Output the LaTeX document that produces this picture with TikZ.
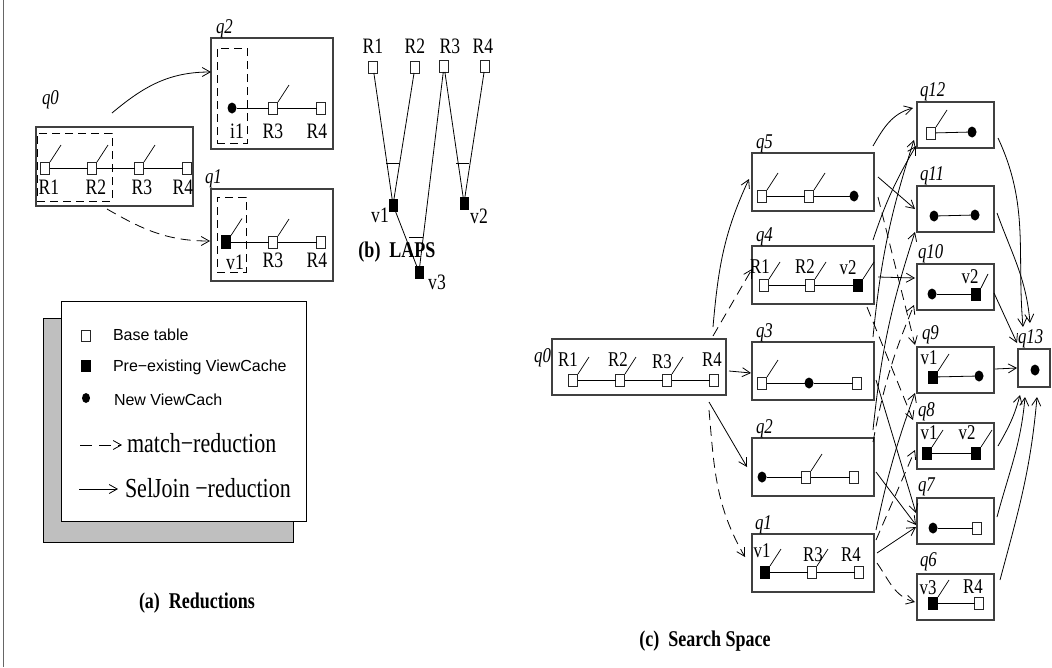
\documentclass[tikz,border=0pt]{standalone}
\usepackage{fontspec}
\setmainfont{Liberation Serif}[FakeStretch=0.8]
\newfontfamily\legfont{Liberation Sans}
\usetikzlibrary{arrows.meta,shapes.geometric}
\newcommand\seltick[1]{\draw[tick] ([xshift=0.5pt]#1.north east) -- ++(11,-17);}
\begin{document}
\begin{tikzpicture}[x=1pt,y=-1pt,
  every node/.style={inner sep=0pt, outer sep=0pt},
  qbox/.style={draw=black!75, line width=1.2pt, rectangle},
  bsq/.style={draw=black!85, fill=white, line width=0.8pt, minimum width=9pt, minimum height=12pt, rectangle},
  psq/.style={draw=black, fill=black, minimum width=9pt, minimum height=12pt, rectangle},
  ndot/.style={fill=black, ellipse, minimum width=9pt, minimum height=11pt},
  lab/.style={font=\fontsize{22}{24}\selectfont},
  clab/.style={font=\fontsize{21}{23}\selectfont},
  qlab/.style={font=\fontsize{21}{23}\selectfont\itshape, anchor=base west},
  link/.style={line width=0.8pt},
  tick/.style={line width=0.7pt},
  arr/.style={line width=0.8pt, -{Straight Barb[length=8pt,width=9pt]}},
  darr/.style={arr, dash pattern=on 10pt off 6pt},
  dbox/.style={draw, line width=0.8pt, dash pattern=on 8pt off 5pt},
]
\useasboundingbox (0,0) rectangle (1052,667);
\fill[white] (0,0) rectangle (1052,667);
\draw[black!60, line width=1pt] (3,0) -- (3,667);

% ---------------- (a) Reductions ----------------
\node[qbox, minimum width=157pt, minimum height=79pt] (a0) at (114.5,166.5) {};
\node[qlab] (a0l) at (42,104) {q0};
\node[dbox, minimum width=75pt, minimum height=68pt] (a0d) at (74.5,167) {};
\node[bsq] (a0r1) at (45,168) {};
\node[bsq] (a0r2) at (92,168) {};
\node[bsq] (a0r3) at (139,168) {};
\node[bsq] (a0r4) at (187,168) {};
\draw[link] (a0r1) -- (a0r2) -- (a0r3) -- (a0r4);
\seltick{a0r1}\seltick{a0r2}\seltick{a0r3}
\node[lab] (a0t1) at (49,187) {R1};
\node[lab] (a0t2) at (96,187) {R2};
\node[lab] (a0t3) at (142,187) {R3};
\node[lab] (a0t4) at (183,187) {R4};

\node[qbox, minimum width=122pt, minimum height=111pt] (a2) at (272,93.5) {};
\node[qlab] (a2l) at (216,33) {q2};
\node[dbox, minimum width=30pt, minimum height=95pt] (a2d) at (232,95.5) {};
\node[ndot] (a2i) at (232,108) {};
\node[bsq] (a2r3) at (273,108) {};
\node[bsq] (a2r4) at (321,108) {};
\draw[link] (a2i) -- (a2r3) -- (a2r4);
\seltick{a2r3}
\node[lab] (a2t1) at (237,131) {i1};
\node[lab] (a2t3) at (273,131) {R3};
\node[lab] (a2t4) at (317,131) {R4};

\node[qbox, minimum width=122pt, minimum height=92pt] (a1) at (272,235) {};
\node[qlab] (a1l) at (205,183) {q1};
\node[dbox, minimum width=29pt, minimum height=75pt] (a1d) at (231.5,234.5) {};
\node[psq, minimum height=13pt] (a1v) at (226,242) {};
\node[bsq] (a1r3) at (273,242) {};
\node[bsq] (a1r4) at (321,242) {};
\draw[link] (a1v) -- (a1r3) -- (a1r4);
\seltick{a1v}\seltick{a1r3}
\node[lab] (a1t1) at (235,262) {v1};
\node[lab] (a1t3) at (273,260) {R3};
\node[lab] (a1t4) at (317,260) {R4};

\draw[arr] ([xshift=-2.5pt,yshift=14pt]a0.north) to[out=40,in=180] ([xshift=0pt,yshift=21.5pt]a2.west);
\draw[darr] ([xshift=-7.5pt,yshift=-3pt]a0.south) to[out=-30,in=180] ([xshift=-1pt,yshift=-6pt]a1.west);

% legend
\node[draw, fill=black!25, line width=0.8pt, minimum width=250pt, minimum height=224pt] (lgs) at (168,430) {};
\node[draw, fill=white, line width=0.8pt, minimum width=245pt, minimum height=220pt] (lg) at (183.5,411) {};
\node[bsq, minimum width=9pt, minimum height=11pt] (lg1) at (86,336) {};
\node[psq, minimum width=9pt, minimum height=11pt] (lg2) at (86,366) {};
\node[ndot, minimum width=8pt, minimum height=10pt] (lg3) at (86,398) {};
\node[anchor=base west, font=\legfont\fontsize{16}{18}\selectfont] (lg1t) at (113,340) {Base table};
\node[anchor=base west, font=\legfont\fontsize{16}{18}\selectfont] (lg2t) at (113,371.5) {Pre−existing ViewCache};
\node[anchor=base west, font=\legfont\fontsize{16}{18}\selectfont] (lg3t) at (114,405) {New ViewCach};
\coordinate (lgm1) at (80,445);
\coordinate (lgm2) at (122,445);
\coordinate (lgs1) at (79,489);
\coordinate (lgs2) at (118,489);
\draw[arr, dash pattern=on 12pt off 7pt] (lgm1) -- (lgm2);
\draw[arr] (lgs1) -- (lgs2);
\node[anchor=base west, font=\fontsize{27.5}{30}\selectfont] (lg4t) at (127,452) {match−reduction};
\node[anchor=base west, font=\fontsize{27.5}{30}\selectfont] (lg5t) at (125,497) {SelJoin −reduction};
\node[font=\bfseries\fontsize{22.5}{25}\selectfont] (capa) at (197,603) {(a)\ \ Reductions};

% ---------------- (b) LAPS ----------------
\node[bsq] (lr1) at (373,67) {};
\node[bsq] (lr2) at (415,67) {};
\node[bsq] (lr3) at (444,66) {};
\node[bsq] (lr4) at (485,66) {};
\node[lab] (lr1t) at (373,46) {R1};
\node[lab] (lr2t) at (415,46) {R2};
\node[lab] (lr3t) at (450,46) {R3};
\node[lab] (lr4t) at (483,46) {R4};
\node[psq, minimum width=8pt] (lv1) at (393,205) {};
\node[psq, minimum width=8pt] (lv2) at (464,203) {};
\node[psq, minimum width=8pt] (lv3) at (419,272) {};
\node[lab] (lv1t) at (380,215) {v1};
\node[lab] (lv2t) at (479,216) {v2};
\node[lab] (lv3t) at (437,282) {v3};
\draw[link] (lr1) -- (lv1);
\draw[link] (lr2) -- (lv1);
\draw[link] (lr3) -- (lv2);
\draw[link] (lr4) -- (lv2);
\draw[link] (lr3) -- (lv3);
\draw[link] (lv1) -- (lv3);
\draw[link] (386,163) -- (399,163);
\draw[link] (456,163) -- (469,163);
\draw[link] (409,237) -- (423,237);
\node[font=\bfseries\fontsize{22.5}{25}\selectfont] (capb) at (397,252) {(b)\ \ LAPS};

% ---------------- (c) Search Space ----------------
\node[qbox, minimum width=174pt, minimum height=56pt] (c0) at (639,367) {};
\node[qlab, anchor=base east] (c0l) at (551,362) {q0};
\node[bsq] (c0a) at (573,380) {};
\node[bsq] (c0b) at (620,380) {};
\node[bsq] (c0c) at (667,380) {};
\node[bsq] (c0d) at (714,380) {};
\draw[link] (c0a) -- (c0b) -- (c0c) -- (c0d);
\seltick{c0a}\seltick{c0b}\seltick{c0c}
\node[clab] (c0t1) at (568,360) {R1};
\node[clab] (c0t2) at (618,360) {R2};
\node[clab] (c0t3) at (662,362) {R3};
\node[clab] (c0t4) at (712,360) {R4};

% column 1
\node[qbox, minimum width=122pt, minimum height=58pt] (c5) at (813,182) {};
\node[qbox, minimum width=122pt, minimum height=58pt] (c4) at (813,275) {};
\node[qbox, minimum width=122pt, minimum height=58pt] (c3) at (813,371) {};
\node[qbox, minimum width=122pt, minimum height=58pt] (c2) at (813,467) {};
\node[qbox, minimum width=122pt, minimum height=58pt] (c1) at (813,563) {};
\node[qlab] (c5l) at (756,148) {q5};
\node[qlab] (c4l) at (756,241) {q4};
\node[qlab] (c3l) at (756,337) {q3};
\node[qlab] (c2l) at (756,433) {q2};
\node[qlab] (c1l) at (755,529) {q1};

\node[bsq] (c5a) at (762,196) {};
\node[bsq] (c5b) at (809,196) {};
\node[ndot] (c5c) at (854,196) {};
\draw[link] (c5a) -- (c5b) -- (c5c);
\seltick{c5a}\seltick{c5b}

\node[bsq] (c4a) at (764,285) {};
\node[bsq] (c4b) at (810,285) {};
\node[psq] (c4c) at (858,285) {};
\draw[link] (c4a) -- (c4b) -- (c4c);
\seltick{c4a}\seltick{c4b}\seltick{c4c}
\node[clab] (c4t1) at (760,267) {R1};
\node[clab] (c4t2) at (805,267) {R2};
\node[clab] (c4t3) at (848,268) {v2};

\node[bsq] (c3a) at (762,383) {};
\node[ndot] (c3b) at (809,383) {};
\node[bsq] (c3c) at (857,383) {};
\draw[link] (c3a) -- (c3b) -- (c3c);
\seltick{c3a}

\node[ndot] (c2a) at (762,477) {};
\node[bsq] (c2b) at (806,477) {};
\node[bsq] (c2c) at (854,477) {};
\draw[link] (c2a) -- (c2b) -- (c2c);
\seltick{c2b}

\node[psq] (c1a) at (765,572) {};
\node[bsq] (c1b) at (812,572) {};
\node[bsq] (c1c) at (859,572) {};
\draw[link] (c1a) -- (c1b) -- (c1c);
\seltick{c1a}\seltick{c1b}
\node[clab] (c1t1) at (762,551) {v1};
\node[clab] (c1t2) at (813,555) {R3};
\node[clab] (c1t3) at (851,555) {R4};

% column 2
\node[qbox, minimum width=77pt, minimum height=46pt] (c12) at (955.5,125) {};
\node[qbox, minimum width=77pt, minimum height=46pt] (c11) at (955.5,209) {};
\node[qbox, minimum width=77pt, minimum height=46pt] (c10) at (955.5,287) {};
\node[qbox, minimum width=77pt, minimum height=46pt] (c9) at (955.5,370) {};
\node[qbox, minimum width=77pt, minimum height=46pt] (c8) at (955.5,446) {};
\node[qbox, minimum width=77pt, minimum height=46pt] (c7) at (955.5,521) {};
\node[qbox, minimum width=77pt, minimum height=46pt] (c6) at (955.5,597) {};
\node[qlab] (c12l) at (920,96) {q12};
\node[qlab] (c11l) at (920,180) {q11};
\node[qlab] (c10l) at (918,258) {q10};
\node[qlab] (c9l) at (922,339) {q9};
\node[qlab] (c8l) at (918,416) {q8};
\node[qlab] (c7l) at (918,491) {q7};
\node[qlab] (c6l) at (920,566) {q6};

\node[bsq] (c12a) at (931,133) {};
\node[ndot] (c12b) at (972,132) {};
\draw[link] (c12a) -- (c12b);
\seltick{c12a}

\node[ndot] (c11a) at (934,216) {};
\node[ndot] (c11b) at (975,215) {};
\draw[link] (c11a) -- (c11b);

\node[ndot] (c10a) at (932,294) {};
\node[psq] (c10b) at (976,294) {};
\draw[link] (c10a) -- (c10b);
\draw[tick] ([xshift=0.5pt]c10b.north east) -- ++(7,-14);
\node[clab] (c10t) at (970,277) {v2};

\node[psq] (c9a) at (933,377) {};
\node[ndot] (c9b) at (979,376) {};
\draw[link] (c9a) -- (c9b);
\seltick{c9a}
\node[clab] (c9t) at (929,358) {v1};

\node[psq] (c8a) at (927,453) {};
\node[psq] (c8b) at (976,453) {};
\draw[link] (c8a) -- (c8b);
\seltick{c8a}\seltick{c8b}
\node[clab] (c8t1) at (929,433) {v1};
\node[clab] (c8t2) at (967,433) {v2};

\node[ndot] (c7a) at (933,528) {};
\node[bsq] (c7b) at (977,528) {};
\draw[link] (c7a) -- (c7b);

\node[psq] (c6a) at (933,603) {};
\node[bsq] (c6b) at (979,603) {};
\draw[link] (c6a) -- (c6b);
\seltick{c6a}
\node[clab] (c6t1) at (928,588) {v3};
\node[clab] (c6t2) at (973,587) {R4};

% q13
\node[qbox, minimum width=32pt, minimum height=38pt] (c13) at (1034,368) {};
\node[qlab] (c13l) at (1018,343) {q13};
\node[ndot] (c13a) at (1035,370) {};

% arrows q0 -> column 1
\draw[arr] ([xshift=-13pt,yshift=12pt]c0.north east) to[out=85,in=-115] ([xshift=-3pt,yshift=3pt]c5.west);
\draw[darr] ([xshift=-13pt,yshift=3pt]c0.north east) -- ([yshift=6pt]c4.west);
\draw[arr] ([xshift=3pt,yshift=-4pt]c0.east) -- ([xshift=-1pt,yshift=-2pt]c3.west);
\draw[arr] ([xshift=-17pt,yshift=-7pt]c0.south east) -- ([xshift=-5pt]c2.west);
\draw[darr] ([xshift=-17pt,yshift=-15pt]c0.south east) to[out=-85,in=120] ([xshift=-7pt,yshift=6pt]c1.west);

% column 1 -> column 2
\draw[arr] ([xshift=-1pt,yshift=7pt]c5.north east) to[out=60,in=195] ([xshift=-4pt,yshift=17pt]c12.west);
\draw[arr] ([xshift=4pt,yshift=5pt]c5.east) -- ([xshift=-2pt]c11.west);
\draw[darr] ([xshift=4pt,yshift=-15pt]c5.east) -- ([xshift=-2pt,yshift=2pt]c9.north west);
\draw[arr] ([xshift=-1pt,yshift=6pt]c4.north east) to[bend left=6] ([xshift=-1pt,yshift=2pt]c12.south west);
\draw[arr] ([xshift=4pt,yshift=-2pt]c4.east) -- ([xshift=-2pt,yshift=9pt]c10.west);
\draw[darr] ([xshift=-7pt,yshift=-3pt]c4.south east) -- ([xshift=-4pt,yshift=3pt]c8.north west);
\draw[arr] ([xshift=-1pt,yshift=5pt]c3.north east) to[bend left=6] ([xshift=-3pt,yshift=8pt]c12.south west);
\draw[arr] ([xshift=2pt,yshift=-9pt]c3.east) -- ([xshift=-1pt,yshift=8pt]c7.west);
\draw[arr] ([xshift=-1pt,yshift=8pt]c2.north east) to[bend left=6] ([xshift=-2pt,yshift=0pt]c11.south west);
\draw[darr] ([xshift=-1pt,yshift=-4pt]c2.north east) to[bend left=6] ([xshift=-3pt,yshift=5pt]c10.south west);
\draw[arr] ([xshift=2pt,yshift=-5pt]c2.east) -- ([xshift=-1pt,yshift=-4pt]c7.west);
\draw[arr] ([xshift=2pt,yshift=4pt]c1.north east) to[bend left=4] ([xshift=-2pt,yshift=0pt]c9.south west);
\draw[darr] ([xshift=2pt,yshift=-6pt]c1.north east) -- ([xshift=-2pt,yshift=-4pt]c8.west);
\draw[arr] ([xshift=3pt,yshift=10pt]c1.east) -- ([xshift=-1pt,yshift=-6pt]c7.west);
\draw[darr] ([xshift=3pt]c1.east) to[out=-55,in=165] ([xshift=-2pt,yshift=-5pt]c6.west);

% column 2 -> q13
\draw[arr] ([xshift=4pt,yshift=-13pt]c12.east) to[out=-65,in=95] ([xshift=5pt,yshift=22pt]c13.north west);
\draw[arr] ([xshift=3pt,yshift=-4pt]c11.east) to[out=-70,in=95] ([xshift=-4pt,yshift=26pt]c13.north);
\draw[arr] ([yshift=-6pt]c10.east) -- ([xshift=-1pt,yshift=6pt]c13.north west);
\draw[arr] ([xshift=1pt,yshift=1pt]c9.east) -- ([xshift=-1pt]c13.west);
\draw[arr] ([xshift=4pt]c8.east) to[out=60,in=-105] ([xshift=2pt,yshift=-8pt]c13.south west);
\draw[arr] ([xshift=3pt,yshift=4pt]c7.east) to[out=75,in=-95] ([xshift=-9pt,yshift=-10pt]c13.south);
\draw[arr] ([xshift=6pt,yshift=17pt]c6.east) to[out=75,in=-95] ([xshift=3pt,yshift=-10pt]c13.south);

\node[font=\bfseries\fontsize{22.5}{25}\selectfont] (capc) at (705,641) {(c)\ \ Search Space};
\end{tikzpicture}
\end{document}
